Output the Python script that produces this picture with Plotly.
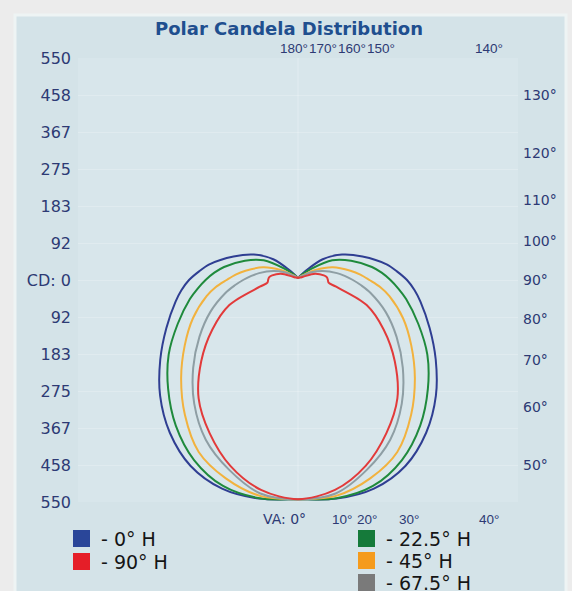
import numpy as np
import plotly.graph_objects as go

# Vertical angles (degrees from nadir) at which candela values are listed
vertical_angles = [0, 10, 20, 30, 40, 50, 60, 70, 80, 85, 90, 95, 100,
                   110, 120, 130, 140, 150, 160, 170, 180]

# Candela values for each horizontal plane
cd_0h = [543, 550, 550, 532, 494, 446, 394, 347, 308, 290, 270, 246, 223,
         170, 126, 80, 30, 14, 8, 6, 5]
cd_22_5h = [543, 549, 543, 515, 471, 420, 370, 317, 272, 250, 229, 208, 186,
            140, 98, 44, 20, 11, 7, 6, 5]
cd_45h = [543, 543, 523, 492, 436, 378, 324, 277, 230, 205, 177, 155, 132,
          92, 50, 22, 13, 9, 7, 6, 5]
cd_67_5h = [543, 537, 500, 457, 400, 339, 282, 231, 182, 158, 136, 116, 98,
            65, 38, 20, 12, 9, 7, 6, 5]
cd_90h = [543, 528, 490, 438, 383, 313, 245, 181, 96, 76, 74, 72, 65,
          45, 18, 10, 8, 7, 6, 6, 5]

series_names = ["0° H", "22.5° H", "45° H", "67.5° H", "90° H"]
series_values = [cd_0h, cd_22_5h, cd_45h, cd_67_5h, cd_90h]
line_colors = ["#2f3e92", "#1f8a3c", "#f2b23e", "#8e9ea4", "#e23a3a"]
swatch_colors = ["#2a4699", "#157a3a", "#f59b1c", "#7a7a7a", "#e51e28"]

# Candela scale shown on the left
cd_max = 550
cd_ticks = [round(cd_max * k / 6) for k in range(7)]  # 0, 92, 183, ...
tick_vals = [-cd_max * k / 6 for k in range(6, 0, -1)] + [0] + [cd_max * k / 6 for k in range(1, 7)]
tick_text = [str(v) for v in cd_ticks[6:0:-1]] + ["CD: 0"] + [str(v) for v in cd_ticks[1:]]

# Angle labels around the frame
top_angles = ["180°", "170°", "160°", "150°", "140°"]
right_angles = [130, 120, 110, 100, 90, 80, 70, 60, 50]
bottom_angles = ["VA: 0°", "10°", "20°", "30°", "40°"]

W, H = 572, 591
L, R, T, B = 78, 54, 58, 89
plot_w, plot_h = W - L - R, H - T - B
scale = plot_h / (2 * cd_max)          # pixels per candela
x_half = plot_w / 2 / scale


def px_x(p):
    return (p - L) / plot_w


def px_y(p):
    return (H - B - p) / plot_h


fig = go.Figure()

theta = np.radians(vertical_angles)
for name, vals, col in zip(series_names, series_values, line_colors):
    r = np.array(vals, dtype=float)
    xr = r * np.sin(theta)
    yr = -r * np.cos(theta)
    # right half (0 -> 180) then mirrored left half (180 -> 0)
    xs = np.concatenate([xr, -xr[::-1][1:]])
    ys = np.concatenate([yr, yr[::-1][1:]])
    fig.add_trace(go.Scatter(x=xs, y=ys, mode="lines", name=name,
                             line=dict(color=col, width=2, shape="spline", smoothing=0.9),
                             showlegend=False, hoverinfo="skip"))

shapes = []
# panel background
shapes.append(dict(type="rect", xref="paper", yref="paper",
                   x0=px_x(15), x1=px_x(566), y0=px_y(15), y1=px_y(H + 5),
                   fillcolor="#d4e3e8", line=dict(color="#eef4f4", width=3),
                   layer="below"))
# plotting area
shapes.append(dict(type="rect", xref="paper", yref="paper",
                   x0=0, x1=1, y0=0, y1=1,
                   fillcolor="#d8e6eb", line=dict(width=0), layer="below"))
# faint centre vertical line
shapes.append(dict(type="line", xref="x", yref="paper", x0=0, x1=0, y0=0, y1=1,
                   line=dict(color="rgba(255,255,255,0.3)", width=1), layer="below"))

annotations = []
axis_font = dict(family="DejaVu Sans", size=16, color="#2d3a74")
label_font = dict(family="DejaVu Sans", size=14, color="#2d3a74")
edge_font = dict(family="Liberation Sans", size=13.5, color="#2d3a74")

# title
annotations.append(dict(text="<b>Polar Candela Distribution</b>", xref="paper", yref="paper",
                        x=px_x(289), y=px_y(29), showarrow=False,
                        xanchor="center", yanchor="middle",
                        font=dict(family="DejaVu Sans", size=18, color="#1f4f8f")))

# top angle labels
for lab, p in zip(top_angles, [294, 323, 352, 381, 489]):
    annotations.append(dict(text=lab, xref="paper", yref="paper", x=px_x(p), y=px_y(48),
                            showarrow=False, xanchor="center", yanchor="middle", font=edge_font))

# right angle labels, placed where each ray meets the right edge
for a in right_angles:
    yv = -x_half / np.tan(np.radians(a)) if a != 90 else 0.0
    annotations.append(dict(text=f"{a}°", xref="paper", yref="y", x=px_x(521), y=yv,
                            showarrow=False, xanchor="left", yanchor="middle", font=label_font))

# bottom angle labels
for lab, p in zip(bottom_angles, [284, 342, 367, 409, 489]):
    annotations.append(dict(text=lab, xref="paper", yref="paper", x=px_x(p), y=px_y(519),
                            showarrow=False, xanchor="center", yanchor="middle",
                            font=label_font if lab.startswith("VA") else edge_font))

# legend: two columns of coloured squares with labels
legend_pos = {
    "0° H": (73, 539),
    "90° H": (73, 562),
    "22.5° H": (358, 539),
    "45° H": (358, 561),
    "67.5° H": (358, 583),
}
legend_font = dict(family="DejaVu Sans", size=19, color="#151515")
for name, col in zip(series_names, swatch_colors):
    sx, sy = legend_pos[name]
    shapes.append(dict(type="rect", xref="paper", yref="paper",
                       x0=px_x(sx), x1=px_x(sx + 17), y0=px_y(sy - 9), y1=px_y(sy + 8),
                       fillcolor=col, line=dict(width=0)))
    annotations.append(dict(text="- " + name, xref="paper", yref="paper",
                            x=px_x(sx + 26), y=px_y(sy), showarrow=False,
                            xanchor="left", yanchor="middle", font=legend_font))

fig.update_layout(
    width=W, height=H,
    margin=dict(l=L, r=R, t=T, b=B),
    paper_bgcolor="#ececec",
    plot_bgcolor="rgba(0,0,0,0)",
    shapes=shapes,
    annotations=annotations,
    showlegend=False,
    xaxis=dict(range=[-x_half, x_half], showgrid=False, zeroline=False,
               showticklabels=False, showline=False, fixedrange=True),
    yaxis=dict(range=[-cd_max, cd_max], tickvals=tick_vals, ticktext=tick_text,
               showgrid=True, gridcolor="rgba(255,255,255,0.22)", gridwidth=1,
               zeroline=False, showline=False, ticks="", ticklabelstandoff=6,
               tickfont=axis_font, fixedrange=True),
)

fig.write_html("out.html")
